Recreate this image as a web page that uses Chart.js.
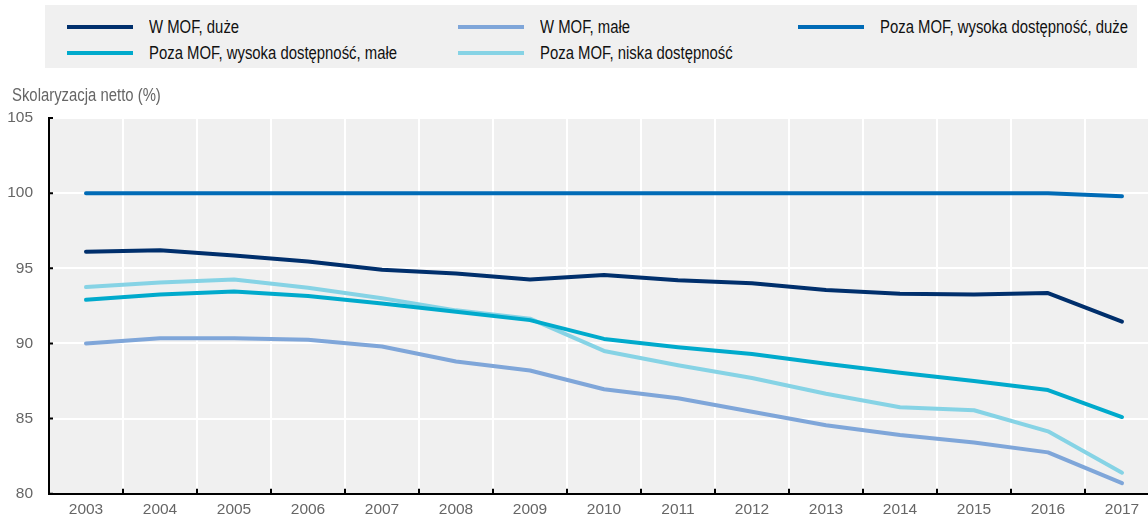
<!DOCTYPE html>
<html>
<head>
<meta charset="utf-8">
<script src="https://cdn.jsdelivr.net/npm/chart.js@4.4.1/dist/chart.umd.min.js"></script>
<style>
  html, body { margin: 0; padding: 0; background: #fff; overflow: hidden; }
  body { width: 1148px; height: 519px; position: relative;
         font-family: 'Liberation Sans', Arial, sans-serif; }
  #legend { position: absolute; left: 45px; top: 5px; width: 1092px; height: 63px; background: #f0f0f0; z-index: 2; }
  .item { position: absolute; height: 20px; }
  .item i { position: absolute; top: 8px; height: 4px; width: 66px; }
  .item span { position: absolute; top: 0; left: 82px; font-size: 17.5px; line-height: 20px; color: #111;
               white-space: nowrap; transform: scaleX(0.85); transform-origin: left center; }
  #ytitle { position: absolute; left: 12px; top: 85px; font-size: 17.5px; line-height: 20px; color: #666; z-index: 2;
            white-space: nowrap; transform: scaleX(0.85); transform-origin: left center; }
  #chart { position: absolute; left: 0; top: 0; display: block; }
</style>
</head>
<body>
<div id="legend"></div>
<div id="ytitle">Skolaryzacja netto (%)</div>
<canvas id="chart" width="1160" height="519" style="width:1160px;height:519px"></canvas>
<script>
const years = ['2003', '2004', '2005', '2006', '2007', '2008', '2009', '2010',
               '2011', '2012', '2013', '2014', '2015', '2016', '2017'];

const seriesNames = [
  'W MOF, duże',
  'W MOF, małe',
  'Poza MOF, wysoka dostępność, duże',
  'Poza MOF, wysoka dostępność, małe',
  'Poza MOF, niska dostępność'
];

const wMofDuze = [96.1, 96.2, 95.85, 95.45, 94.9, 94.65, 94.25, 94.55, 94.2, 94.0, 93.55, 93.3, 93.25, 93.35, 91.45];
const wMofMale = [90.0, 90.35, 90.35, 90.25, 89.8, 88.8, 88.2, 86.95, 86.35, 85.45, 84.55, 83.9, 83.4, 82.75, 80.7];
const pozaWysokaDuze = [100, 100, 100, 100, 100, 100, 100, 100, 100, 100, 100, 100, 100, 100, 99.8];
const pozaWysokaMale = [92.9, 93.25, 93.45, 93.15, 92.65, 92.1, 91.55, 90.3, 89.75, 89.3, 88.65, 88.05, 87.5, 86.9, 85.1];
const pozaNiska = [93.75, 94.05, 94.25, 93.7, 93.0, 92.2, 91.65, 89.5, 88.55, 87.7, 86.65, 85.75, 85.55, 84.15, 81.4];

const yTicks = [80, 85, 90, 95, 100, 105];

const colors = ['#002f6c', '#7fa6d9', '#006bb6', '#00aacc', '#86d3e5'];
const values = [wMofDuze, wMofMale, pozaWysokaDuze, pozaWysokaMale, pozaNiska];

// legend positions (column, row) as in the source figure
const legendSlots = [[0, 0], [1, 0], [2, 0], [0, 1], [1, 1]];
const colX = [22, 413, 753];
const rowY = [22, 48];

const legend = document.getElementById('legend');
seriesNames.forEach((name, i) => {
  const [c, r] = legendSlots[i];
  const el = document.createElement('div');
  el.className = 'item';
  el.style.left = colX[c] + 'px';
  el.style.top = (rowY[r] - 10) + 'px';
  el.innerHTML = '<i style="background:' + colors[i] + '"></i><span>' + name + '</span>';
  legend.appendChild(el);
});

const plotBg = {
  id: 'plotBg',
  beforeDraw(chart) {
    const { ctx, chartArea: a } = chart;
    ctx.save();
    ctx.fillStyle = '#f0f0f0';
    ctx.fillRect(a.left, a.top, a.right - a.left, a.bottom - a.top);
    ctx.restore();
  }
};

// ticks pointing into the plot
const inwardTicks = {
  id: 'inwardTicks',
  afterDraw(chart) {
    const { ctx, scales: { x, y }, chartArea: a } = chart;
    ctx.save();
    ctx.strokeStyle = '#000';
    ctx.lineWidth = 2;
    ctx.beginPath();
    for (let i = 1; i <= years.length; i++) {
      const px = x.getPixelForValue(i - 0.5);
      ctx.moveTo(px, a.bottom);
      ctx.lineTo(px, a.bottom - 5);
    }
    y.ticks.forEach(t => {
      const py = y.getPixelForValue(t.value);
      ctx.moveTo(a.left, py);
      ctx.lineTo(a.left + 4, py);
    });
    ctx.stroke();
    ctx.restore();
  }
};

const font = { family: "'Liberation Sans', Arial, sans-serif", size: 15.5 };

new Chart(document.getElementById('chart'), {
  type: 'line',
  data: {
    labels: years,
    datasets: seriesNames.map((name, i) => ({
      label: name,
      data: values[i],
      borderColor: colors[i],
      backgroundColor: colors[i],
      borderWidth: 4,
      borderCapStyle: 'round',
      borderJoinStyle: 'round',
      pointRadius: 0,
      tension: 0,
      order: i === 0 ? 0 : 1
    }))
  },
  options: {
    responsive: false,
    animation: false,
    devicePixelRatio: 1,
    layout: { padding: { top: 118, right: 1, bottom: 0, left: 0 } },
    plugins: { legend: { display: false }, tooltip: { enabled: false } },
    scales: {
      x: {
        type: 'category',
        offset: true,
        afterFit(scale) { scale.height = 22; },
        grid: { offset: true, color: '#fff', lineWidth: 2, drawTicks: false },
        border: { color: '#000', width: 2 },
        ticks: { color: '#666', font, padding: 7, maxRotation: 0, autoSkip: false }
      },
      y: {
        min: 80,
        max: 105,
        afterBuildTicks(scale) { scale.ticks = yTicks.map(v => ({ value: v })); },
        afterFit(scale) { scale.width = 49; },
        grid: { color: '#fff', lineWidth: 2, drawTicks: false },
        border: { color: '#000', width: 2 },
        ticks: { color: '#666', font, padding: 16 }
      }
    }
  },
  plugins: [plotBg, inwardTicks]
});
</script>
</body>
</html>
